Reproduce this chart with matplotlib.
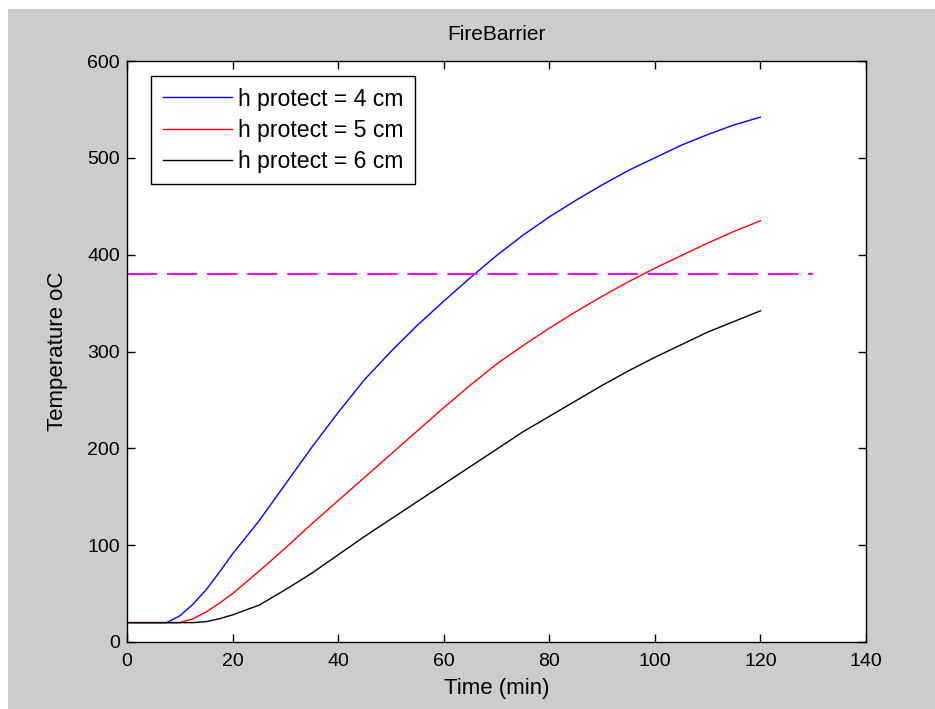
import numpy as np
import matplotlib.pyplot as plt
from matplotlib.patches import Rectangle

plt.rcParams['font.family'] = ['Liberation Sans', 'DejaVu Sans']

# tiempo (min)
t = [0, 7.5, 10, 12.5, 15, 17.5, 20, 25, 30, 35, 40, 45, 50, 55, 60, 65, 70,
     75, 80, 85, 90, 95, 100, 105, 110, 115, 120]

# temperatura para cada espesor de proteccion
T_4cm = [20, 20, 27, 39, 54, 72, 91, 125, 163, 201, 237, 271, 300, 327, 352,
         376, 399, 420, 439, 456, 472, 487, 500, 513, 524, 534, 542]
T_5cm = [20, 20, 20, 24, 31, 40, 50, 73, 97, 122, 146, 170, 194, 218, 242,
         265, 287, 306, 324, 341, 357, 372, 386, 399, 412, 424, 435]
T_6cm = [20, 20, 20, 20, 21, 24, 28, 38, 54, 71, 90, 109, 127, 145, 163,
         181, 199, 217, 233, 249, 265, 280, 294, 307, 320, 331, 342]

etiquetas = ['h protect = 4 cm', 'h protect = 5 cm', 'h protect = 6 cm']

# limite de temperatura critica
T_lim = 380
t_lim = [0, 130]

W, H = 935, 709
fig = plt.figure(figsize=(W / 100, H / 100), dpi=100, facecolor='white')
# fondo gris tipo MATLAB
fig.patches.append(Rectangle((8 / W, 0), 1, 1 - 9 / H, transform=fig.transFigure,
                             facecolor='#cccccc', edgecolor='none', zorder=-1))

ax = fig.add_axes([127 / W, 67 / H, 739 / W, 581 / H])
ax.plot(t, T_4cm, color='blue', lw=1.0, label=etiquetas[0])
ax.plot(t, T_5cm, color='red', lw=1.0, label=etiquetas[1])
ax.plot(t, T_6cm, color='black', lw=1.0, label=etiquetas[2])
ax.plot(t_lim, [T_lim, T_lim], color='magenta', lw=1.4, dashes=(15.5, 5.1))

ax.set_xlim(0, 140)
ax.set_ylim(0, 600)
ax.set_xticks(np.arange(0, 141, 20))
ax.set_yticks(np.arange(0, 601, 100))
ax.tick_params(direction='in', length=6, width=1, top=True, right=True,
               labelsize=14)
ax.tick_params(axis='x', pad=8)
ax.tick_params(axis='y', pad=5)
for s in ax.spines.values():
    s.set_linewidth(1.0)

ax.set_title('FireBarrier', fontsize=15, pad=15)
ax.set_xlabel('Time (min)', fontsize=16, labelpad=6)
ax.set_ylabel('Temperature oC', fontsize=16, labelpad=14)

leg = ax.legend(loc='upper left', bbox_to_anchor=(151 / W, 1 - 76 / H),
                bbox_transform=fig.transFigure, borderaxespad=0,
                fancybox=False, framealpha=1, edgecolor='black',
                fontsize=16.6, handlelength=3.0, handletextpad=0.26,
                labelspacing=0.35, borderpad=0.5)
leg.get_frame().set_linewidth(1.0)

fig.savefig('out.png', dpi=100, facecolor=fig.get_facecolor())
